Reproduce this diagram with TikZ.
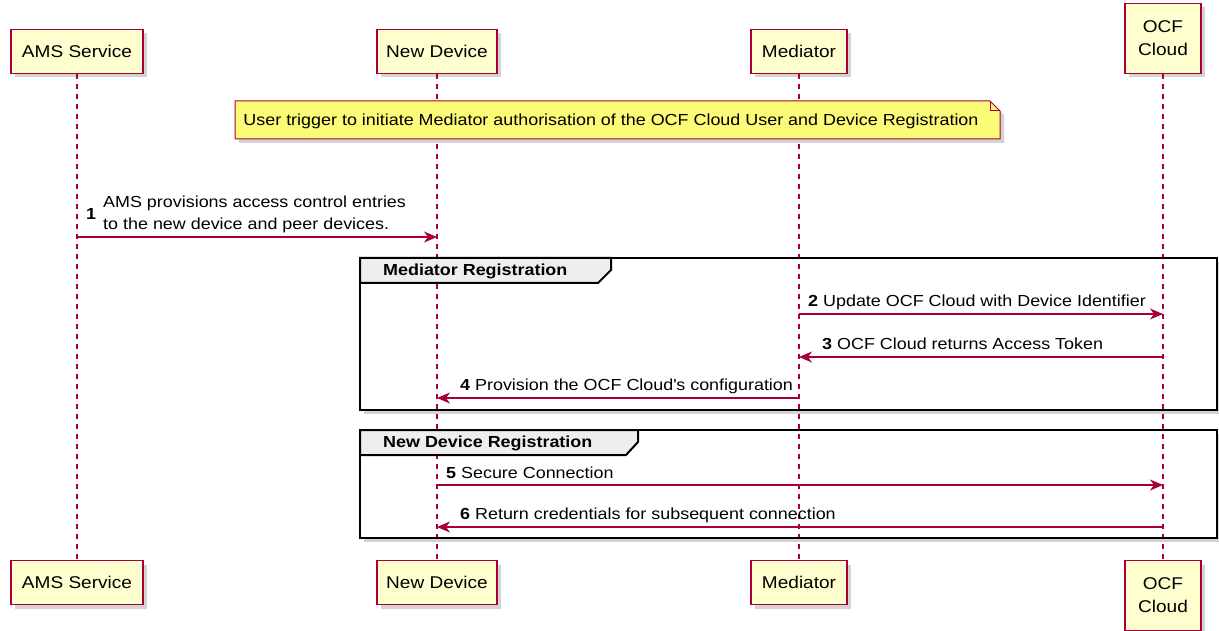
\documentclass[tikz,border=0pt]{standalone}
\usepackage{fontspec}
\setmainfont{Liberation Sans}[FakeStretch=1.12]
\usetikzlibrary{arrows.meta,shadows}
\definecolor{umlred}{HTML}{A80036}
\definecolor{umlbox}{HTML}{FEFECE}
\definecolor{umlnote}{HTML}{FBFB77}
\definecolor{grphead}{HTML}{EEEEEE}
\tikzset{
  shade box/.style={drop shadow={shadow xshift=4pt,shadow yshift=-4pt,opacity=0.35}},
  actor/.style={draw=umlred, fill=umlbox, line width=1.2pt, minimum height=44pt,
    align=center, font=\fontsize{17}{23}\selectfont, shade box},
  life/.style={umlred, line width=1.3pt, dash pattern=on 5pt off 5pt},
  msg/.style={umlred, line width=1.2pt, -{Stealth[length=13pt,width=11pt,inset=4pt]}},
  lbl/.style={anchor=west, inner sep=0pt, font=\fontsize{16}{22}\selectfont},
  grp/.style={line width=2.5pt},
  grplbl/.style={anchor=west, inner sep=0pt, font=\bfseries\fontsize{16}{22}\selectfont},
}
\begin{document}
\begin{tikzpicture}[x=1pt,y=-1pt]
  \useasboundingbox (0,0) rectangle (1219,631);

  % participants, top and bottom
  \foreach \n/\x/\w/\t in {ams/77/132/AMS Service, dev/437/120/New Device, med/799/96/Mediator} {
    \node[actor, minimum width=\w, anchor=south] (\n-top) at (\x,74) {\t};
    \node[actor, minimum width=\w, anchor=north] (\n-bot) at (\x,560) {\t};
  }
  \node[actor, minimum width=76, minimum height=70, anchor=south] (ocf-top) at (1163,74) {OCF\\Cloud};
  \node[actor, minimum width=76, minimum height=70, anchor=north] (ocf-bot) at (1163,560) {OCF\\Cloud};

  % group backgrounds
  \path[fill=white, shade box] (360,258) rectangle (1217,410);
  \path[fill=white, shade box] (360,430) rectangle (1217,538);

  % lifelines
  \foreach \n in {ams,dev,med,ocf}
    \draw[life] (\n-top) -- (\n-bot);

  % groups
  \draw[grp] (360,258) rectangle (1217,410);
  \draw[line width=2pt, fill=grphead] (360,258) -- (611,258) -- (611,270) -- (598,283) -- (360,283) -- cycle;
  \node[grplbl] (g1) at (383,271) {Mediator Registration};
  \draw[grp] (360,430) rectangle (1217,538);
  \draw[line width=2pt, fill=grphead] (360,430) -- (638,430) -- (638,442) -- (626,455) -- (360,455) -- cycle;
  \node[grplbl] (g2) at (383,443) {New Device Registration};

  % note
  \draw[umlred, fill=umlnote, line width=1pt, shade box] (235,101) -- (990,101) -- (1000,111) -- (1000,139) -- (235,139) -- cycle;
  \draw[umlred, line width=1pt] (990,101) -- (990,111) -- (1000,111);
  \node[font=\fontsize{16}{19}\selectfont] (note) at (611,121) {User trigger to initiate Mediator authorisation of the OCF Cloud User and Device Registration};

  % messages
  \draw[msg] (ams-top |- 0,237) -- (dev-top |- 0,237);
  \node[lbl] (n1) at (86,214) {\textbf{1}};
  \node[lbl, align=left] (l1) at (103,214) {AMS provisions access control entries\\to the new device and peer devices.};

  \draw[msg] (med-top |- 0,314) -- (ocf-top |- 0,314);
  \node[lbl] (l2) at (808,302) {\textbf{2} Update OCF Cloud with Device Identifier};
  \draw[msg] (ocf-top |- 0,357) -- (med-top |- 0,357);
  \node[lbl] (l3) at (822,344) {\textbf{3} OCF Cloud returns Access Token};
  \draw[msg] (med-top |- 0,398) -- (dev-top |- 0,398);
  \node[lbl] (l4) at (460,386) {\textbf{4} Provision the OCF Cloud\textquotesingle s configuration};

  \draw[msg] (dev-top |- 0,485) -- (ocf-top |- 0,485);
  \node[lbl] (l5) at (446,473) {\textbf{5} Secure Connection};
  \draw[msg] (ocf-top |- 0,527) -- (dev-top |- 0,527);
  \node[lbl] (l6) at (460,515) {\textbf{6} Return credentials for subsequent connection};
\end{tikzpicture}
\end{document}
